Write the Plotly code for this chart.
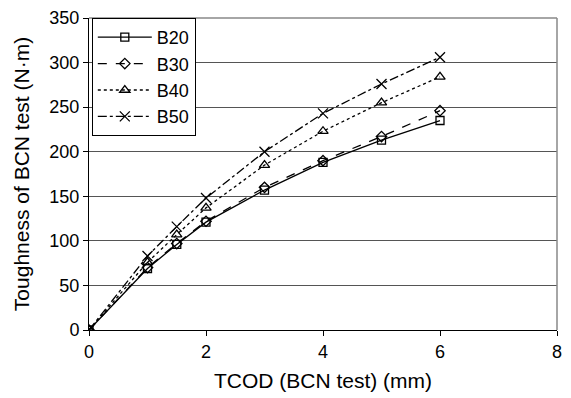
import plotly.graph_objects as go

tcod = [0, 1, 1.5, 2, 3, 4, 5, 6]
b20 = [0, 69, 96, 121, 157, 188, 213, 235]
b30 = [0, 70, 97, 122, 160, 190, 217, 246]
b40 = [0, 76, 107, 137, 185, 223, 255, 284]
b50 = [0, 83, 116, 148, 200, 243, 276, 306]
series_names = ["B20", "B30", "B40", "B50"]

styles = [
    ("solid", "square-open", 8),
    ("dash", "diamond-open", 8),
    ("dot", "triangle-up-open", 9),
    ("dashdot", "x-thin-open", 10),
]

fig = go.Figure()
for name, vals, (dash, sym, msize) in zip(series_names, [b20, b30, b40, b50], styles):
    fig.add_trace(go.Scatter(
        x=tcod, y=vals, name=name, mode="lines+markers",
        line=dict(color="black", width=1.3, dash=dash),
        marker=dict(symbol=sym, size=msize, color="black",
                    line=dict(color="black", width=1.3)),
    ))

font = "Liberation Sans, Arial, sans-serif"
# page body has an 8px default margin, so the figure is sized to fit the window
fig.update_layout(
    width=563, height=390,
    margin=dict(l=81, r=14, t=10, b=68),
    paper_bgcolor="white", plot_bgcolor="white",
    font=dict(family=font, size=18, color="black"),
    showlegend=True,
    legend=dict(
        x=0.006, y=1, xanchor="left", yanchor="top",
        bgcolor="white", bordercolor="black", borderwidth=1,
        font=dict(size=18), tracegroupgap=0, itemwidth=54,
    ),
    xaxis=dict(
        range=[0, 8], tickvals=[0, 2, 4, 6, 8], showgrid=False,
        zeroline=False, showline=True, linecolor="black", linewidth=1,
        ticks="outside", ticklen=5, tickcolor="black", automargin=False,
        tickfont=dict(size=18), ticklabeloverflow="allow",
        title=dict(text="TCOD (BCN test) (mm)", font=dict(size=21), standoff=12),
    ),
    yaxis=dict(
        range=[0, 350], tickvals=list(range(0, 351, 50)), showgrid=True,
        gridcolor="#555", gridwidth=1,
        zeroline=False, showline=True, linecolor="black", linewidth=1,
        ticks="outside", ticklen=5, tickcolor="black", automargin=False,
        tickfont=dict(size=18), ticklabeloverflow="allow",
        title=dict(text="Toughness of BCN test (N·m)", font=dict(size=21), standoff=14),
    ),
    shapes=[
        dict(type="line", xref="paper", yref="paper", x0=0, x1=1, y0=1, y1=1,
             line=dict(color="#888", width=1.5)),
        dict(type="line", xref="paper", yref="paper", x0=1, x1=1, y0=0, y1=1,
             line=dict(color="#888", width=1.5)),
    ],
)

fig.write_html("out.html")
